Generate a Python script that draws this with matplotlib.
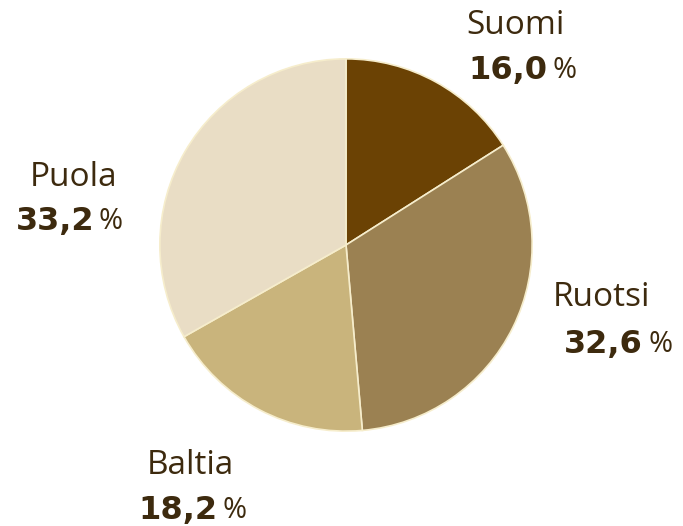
import matplotlib
matplotlib.use('Agg')
import matplotlib.pyplot as plt

# Osuudet (%), myötäpäivään ylhäältä alkaen
maat = ['Suomi', 'Ruotsi', 'Baltia', 'Puola']
osuudet = [16.0, 32.6, 18.2, 33.2]
varit = ['#6b4204', '#9b8152', '#c9b47c', '#e9ddc5']

W, H = 683, 526
fig = plt.figure(figsize=(W / 100, H / 100), dpi=100)

# piirakan keskipiste ja säde pikseleinä
cx, cy, r = 346, 245, 188
ax = fig.add_axes([(cx - r) / W, (H - cy - r) / H, 2 * r / W, 2 * r / H])
ax.pie(osuudet, colors=varit, startangle=90, counterclock=False, radius=1,
       wedgeprops=dict(edgecolor='#f6edcc', linewidth=1.2))
ax.set_xlim(-1.01, 1.01)
ax.set_ylim(-1.01, 1.01)
ax.set_aspect('equal')
ax.axis('off')

tekstivari = '#3d2a0e'

# (nimen keskikohta x, nimen y, luvun oikea reuna x, luvun y)
paikat = {
    'Suomi': (515, 25, 547, 70),
    'Ruotsi': (601, 298, 643, 345),
    'Baltia': (190, 465, 218, 510),
    'Puola': (74, 177, 94, 222),
}


def px(x, y):
    return x / W, 1 - y / H


for maa, arvo in zip(maat, osuudet):
    nx, ny, lx, ly = paikat[maa]
    fig.text(*px(nx, ny), maa, ha='center', va='center', fontsize=24,
             color=tekstivari, family='Open Sans')
    fig.text(*px(lx, ly), f'{arvo:.1f}'.replace('.', ','), ha='right',
             va='center', fontsize=23, fontweight='bold', color=tekstivari,
             family='DejaVu Sans')
    fig.text(*px(lx + 5, ly), '%', ha='left', va='center', fontsize=21,
             color=tekstivari, family='Open Sans')

fig.savefig('out.png', dpi=100)
